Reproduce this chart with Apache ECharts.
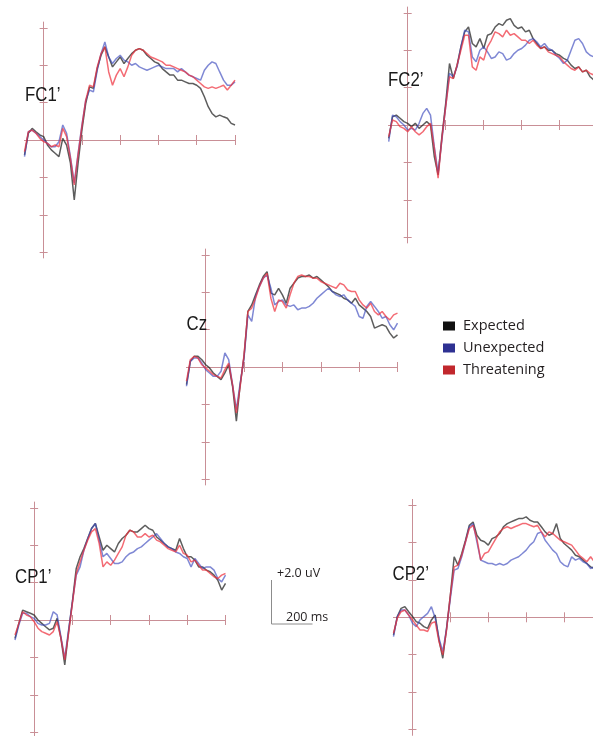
<!DOCTYPE html>
<html>
<head>
<meta charset="utf-8">
<script src="https://cdn.jsdelivr.net/npm/echarts@6/dist/echarts.min.js"></script>
<style>
html,body{margin:0;padding:0;background:#fff;}
#chart{width:593px;height:736px;}
</style>
</head>
<body>
<div id="chart"></div>
<script>
// ---- data ----
const times = [-100,-80,-60,-40,-20,0,20,40,60,80,100,120,140,160,180,200,220,240,260,280,300,320,340,360,380,400,420,440,460,480,500,520,540,560,580,600,620,640,660,680,700,720,740,760,780,800,820,840,860,880,900,920,940,960,980,1000];
const conditions = ['Expected', 'Unexpected', 'Threatening'];
const channels = ['FC1\u2019', 'FC2\u2019', 'Cz', 'CP1\u2019', 'CP2\u2019'];
const xTicks = [200, 400, 600, 800, 1000];
const yTicks = [-6, -4, -2, 2, 4, 6];

const fc1Expected = [-0.8,0.36,0.62,0.44,0.27,0.18,-0.27,-0.53,-0.71,-0.89,0.09,-0.27,-1.24,-3.2,-1.24,0.53,1.96,2.84,2.76,3.82,4.53,4.98,4.44,3.91,4.18,4.44,4.09,4.36,4.62,4.8,4.89,4.8,4.53,4.36,4.18,4.09,3.82,3.64,3.47,3.47,3.2,3.2,3.11,3.02,3.02,2.93,2.76,2.31,1.78,1.42,1.24,1.33,1.24,1.16,0.89,0.8];
const fc1Unexpected = [-0.89,0.44,0.53,0.36,0.18,0,-0.18,-0.36,-0.36,-0.09,0.8,0.36,-0.89,-2.31,-0.71,0.8,2.13,2.67,2.58,3.73,4.62,5.24,4.44,4.09,4.36,4.53,4.27,4.18,4.0,4.09,3.91,3.82,3.73,3.82,3.91,4.0,3.91,3.82,3.82,3.82,3.64,3.82,3.64,3.47,3.38,3.29,3.2,3.73,4.0,4.18,4.09,3.64,3.2,2.93,2.93,3.11];
const fc1Threatening = [-0.62,0.44,0.53,0.36,0.09,-0.09,-0.18,-0.36,-0.27,-0.36,0.62,0.18,-0.98,-2.4,-0.8,0.71,2.13,2.93,2.84,3.91,4.62,4.98,3.64,2.93,3.47,3.82,3.38,3.91,4.53,4.8,4.89,4.8,4.62,4.44,4.36,4.27,4.18,4.0,4.0,3.91,3.82,3.73,3.64,3.47,3.38,3.2,3.02,2.84,2.76,2.84,2.76,2.84,2.93,2.67,2.93,3.2];

const fc2Expected = [-0.71,0.44,0.53,0.36,0.18,0.09,-0.09,0.09,-0.18,0,0.18,0,-1.69,-2.67,-0.62,1.16,3.29,2.49,3.2,4.18,4.98,5.24,4.36,4.18,4.62,4.09,4.8,4.89,5.24,5.42,5.33,5.6,5.69,5.33,5.16,5.24,4.98,5.07,4.62,4.36,4.09,4.18,4.0,4.0,3.82,3.73,3.56,3.47,3.2,3.02,3.11,2.84,2.93,2.58,2.4,2.31];
const fc2Unexpected = [-0.89,0.53,0.44,0.18,0,-0.27,-0.18,-0.27,0.09,0.62,0.89,0.53,-1.16,-2.58,-0.8,0.98,2.76,2.58,3.11,4.18,5.07,4.98,3.64,3.38,4.0,4.18,3.91,3.56,3.64,3.91,3.82,3.47,3.56,3.82,4.0,4.09,4.27,4.53,4.62,4.44,4.18,4.36,4.09,4.0,3.73,3.56,3.29,3.47,4.0,4.53,4.62,4.36,3.91,3.73,3.64,3.64];
const fc2Threatening = [-0.62,0.27,0.18,-0.09,-0.18,-0.36,-0.09,-0.36,-0.53,-0.36,-0.09,0.09,-1.24,-2.84,-0.71,0.98,2.58,2.49,3.2,4.0,4.8,4.8,3.11,2.93,3.64,3.47,4.18,4.53,4.98,4.89,4.71,5.07,4.8,4.89,4.71,4.53,4.53,4.36,4.53,4.27,4.09,4.18,3.91,3.82,3.73,3.64,3.38,3.2,3.02,2.93,3.11,2.84,2.93,2.76,2.67,2.58];

const czExpected = [-0.94,0.3,0.57,0.57,0.39,0.12,-0.05,-0.32,-0.5,-0.68,-0.32,0.12,-1.03,-2.9,-0.94,0.57,2.97,3.32,3.86,4.39,4.84,5.1,3.95,3.86,4.21,3.86,3.41,4.21,4.48,4.75,4.84,4.84,4.92,4.75,4.84,4.66,4.48,4.3,4.04,3.95,3.86,3.68,3.59,3.41,3.68,3.32,3.15,2.97,2.7,2.08,2.17,2.26,2.17,1.81,1.55,1.72];
const czUnexpected = [-1.03,0.3,0.48,0.48,0.21,-0.14,-0.32,-0.5,-0.5,-0.23,0.75,0.39,-0.94,-2.28,-0.85,0.48,2.79,2.44,3.77,4.3,4.75,4.92,4.21,3.32,3.5,3.59,3.32,3.24,3.32,3.06,3.15,3.15,3.24,3.41,3.68,3.86,4.04,4.21,4.04,3.86,3.77,3.86,3.59,3.41,3.24,2.7,2.61,3.24,3.5,3.24,2.97,2.61,2.7,2.26,1.99,2.35];
const czThreatening = [-0.76,0.39,0.57,0.48,0.12,-0.05,-0.23,-0.41,-0.5,-0.59,-0.14,0.21,-0.94,-2.45,-1.03,0.66,2.97,3.15,3.68,4.3,4.75,5.01,3.68,2.97,3.59,3.5,3.15,3.86,4.48,4.84,4.92,4.84,4.84,4.75,4.75,4.57,4.48,4.39,4.3,4.21,4.48,4.39,4.12,4.04,4.04,3.59,3.32,3.15,3.41,2.97,2.79,2.97,2.7,2.52,2.79,2.88];

const cp1Expected = [-0.98,-0.18,0.53,0.44,0.36,0.27,0,-0.18,-0.36,-0.53,-0.44,0.09,-0.98,-2.4,-0.62,0.98,2.76,3.38,3.82,4.36,4.89,5.16,4.44,3.73,4.0,3.82,3.64,4.09,4.36,4.53,4.8,4.71,4.71,4.89,5.07,4.89,4.8,4.44,4.27,4.09,3.91,3.82,3.73,4.36,3.82,3.38,3.38,3.2,2.84,2.84,2.67,2.58,2.4,2.13,1.6,1.96];
const cp1Unexpected = [-1.07,-0.27,0.36,0.36,0.18,0.09,-0.18,-0.27,-0.27,-0.18,0.44,0.27,-0.89,-2.04,-0.53,0.98,2.4,2.84,3.73,4.36,4.89,5.16,4.27,3.38,3.56,3.29,3.02,3.02,3.11,3.38,3.56,3.64,3.82,3.91,4.09,4.27,4.44,4.62,4.36,4.09,3.91,3.82,3.64,3.56,3.38,3.29,2.84,3.29,3.02,2.76,2.84,2.84,2.67,2.22,2.04,2.4];
const cp1Threatening = [-0.8,-0.18,0.44,0.27,0.18,-0.09,-0.44,-0.62,-0.71,-0.8,-0.62,-0.09,-0.98,-2.13,-0.71,0.89,2.49,3.11,3.73,4.27,4.71,4.89,4.09,2.84,3.11,2.93,3.2,3.56,3.91,4.53,4.8,4.71,4.44,4.44,4.62,4.44,4.53,4.27,4.18,4.0,3.82,3.73,3.64,4.0,3.56,3.47,3.11,3.2,2.93,2.67,2.67,2.49,2.31,2.22,2.4,2.49];

const cp2Expected = [-0.94,0.04,0.48,0.57,0.3,0.04,-0.23,-0.32,-0.5,-0.59,-0.14,0.12,-1.21,-2.19,-0.59,1.19,3.24,2.79,3.41,4.12,4.92,5.1,4.39,4.12,4.04,3.86,4.21,4.3,4.48,4.84,5.01,5.1,5.19,5.28,5.28,5.37,5.19,5.1,5.1,4.84,4.57,4.39,4.48,5.01,4.21,3.95,3.77,3.59,3.32,3.24,3.06,2.88,2.7,2.61,2.52,2.35];
const cp2Unexpected = [-1.03,0.04,0.39,0.39,0.12,-0.32,-0.5,-0.14,0.04,0.21,0.57,-0.05,-1.12,-1.83,-0.59,1.01,2.52,2.61,3.24,4.04,4.84,5.01,4.04,3.06,2.97,2.88,2.88,2.79,2.88,2.79,2.88,3.06,3.15,3.24,3.41,3.59,3.86,4.04,4.48,4.57,4.12,3.86,3.59,3.41,2.97,2.79,2.7,3.24,3.06,3.15,2.97,2.88,2.61,2.7,2.61,2.52];
const cp2Threatening = [-0.85,-0.05,0.3,0.39,0.12,-0.14,-0.41,-0.68,-0.68,-0.76,-0.32,-0.23,-1.3,-2.01,-0.68,1.19,2.7,2.79,3.32,4.04,4.75,4.92,4.21,3.06,3.41,3.5,3.86,4.21,4.57,4.75,4.84,4.75,4.84,4.92,5.01,5.01,4.92,4.84,4.92,4.57,4.3,4.57,4.48,4.3,4.12,4.04,3.95,3.86,3.59,3.32,3.15,2.97,3.24,2.97,2.79,2.7];

const panelValues = [
  [fc1Expected, fc1Unexpected, fc1Threatening],
  [fc2Expected, fc2Unexpected, fc2Threatening],
  [czExpected, czUnexpected, czThreatening],
  [cp1Expected, cp1Unexpected, cp1Threatening],
  [cp2Expected, cp2Unexpected, cp2Threatening]
];

// ---- layout & style ----
const boxes = [
  {left: 24.5, top: 22.2, width: 210.5, height: 235.6},
  {left: 388.7, top: 7.2, width: 209, height: 235.6},
  {left: 186.5, top: 249.2, width: 211, height: 235.6},
  {left: 15, top: 502.2, width: 210.5, height: 235.6},
  {left: 393.5, top: 499.5, width: 208.5, height: 235.6}
];
const labelPos = [
  {x: 25, y: 95}, {x: 388, y: 80}, {x: 186.5, y: 324}, {x: 15, y: 577}, {x: 392.5, y: 574}
];
const traceColors = ['rgba(30,30,30,0.72)', 'rgba(60,75,190,0.66)', 'rgba(238,50,62,0.72)'];
const legendColors = ['#111111', '#2e3192', '#c1272d'];
const axisColor = '#c98f96';

const grids = [], xAxes = [], yAxes = [], series = [], graphics = [];
boxes.forEach((b, i) => {
  grids.push(Object.assign({containLabel: false, outerBoundsMode: 'none'}, b));
  ['bottom', 'top'].forEach(pos => {
    xAxes.push({
      type: 'value', gridIndex: i, min: -100, max: 1000, position: pos,
      axisLine: {show: true, onZero: true, lineStyle: {color: axisColor, width: 1}},
      axisTick: {show: true, customValues: xTicks, length: 5, lineStyle: {color: axisColor, width: 1}},
      axisLabel: {show: false}, splitLine: {show: false}
    });
  });
  ['left', 'right'].forEach(pos => {
    yAxes.push({
      type: 'value', gridIndex: i, min: -6.3, max: 6.3, position: pos,
      axisLine: {show: true, onZero: true, lineStyle: {color: axisColor, width: 1}},
      axisTick: {show: true, customValues: yTicks, length: 4, lineStyle: {color: axisColor, width: 1}},
      axisLabel: {show: false}, splitLine: {show: false}
    });
  });
  conditions.forEach((c, k) => {
    series.push({
      type: 'line', name: c, xAxisIndex: 2 * i, yAxisIndex: 2 * i,
      data: times.map((t, j) => [t, panelValues[i][k][j]]),
      symbol: 'none', showSymbol: false, silent: true,
      itemStyle: {color: legendColors[k]},
      lineStyle: {color: traceColors[k], width: 1.5},
      z: 3 + k
    });
  });
  graphics.push({
    type: 'text', x: labelPos[i].x, y: labelPos[i].y, scaleX: 0.84, z: 10,
    style: {text: channels[i], fontFamily: '"Liberation Sans", Arial, sans-serif', fontSize: 20,
      fill: '#1a1a1a', verticalAlign: 'middle', align: 'left'}
  });
});

// scale bar
graphics.push(
  {type: 'line', shape: {x1: 271.5, y1: 580, x2: 271.5, y2: 624}, style: {stroke: '#8c8c8c', lineWidth: 1}},
  {type: 'line', shape: {x1: 271.5, y1: 624, x2: 312.5, y2: 624}, style: {stroke: '#8c8c8c', lineWidth: 1}},
  {type: 'text', x: 277, y: 573.5, style: {text: '+2.0 uV', fontFamily: '"Open Sans", sans-serif', fontSize: 12.5, fill: '#231f20', verticalAlign: 'middle'}},
  {type: 'text', x: 286, y: 617.7, style: {text: '200 ms', fontFamily: '"Open Sans", sans-serif', fontSize: 12.5, fill: '#231f20', verticalAlign: 'middle'}}
);

const chart = echarts.init(document.getElementById('chart'), null, {renderer: 'canvas'});
chart.setOption({
  animation: false,
  backgroundColor: '#ffffff',
  grid: grids,
  xAxis: xAxes,
  yAxis: yAxes,
  legend: {
    orient: 'vertical', left: 438, top: 313.5, icon: 'rect',
    itemWidth: 12, itemHeight: 9, itemGap: 7, selectedMode: false,
    data: conditions.map((c, k) => ({name: c, itemStyle: {color: legendColors[k]}})),
    textStyle: {fontFamily: '"Open Sans", sans-serif', fontSize: 14.5, color: '#231f20', lineHeight: 14, padding: [0, 0, 0, 3]}
  },
  series: series,
  graphic: graphics
});
</script>
</body>
</html>
